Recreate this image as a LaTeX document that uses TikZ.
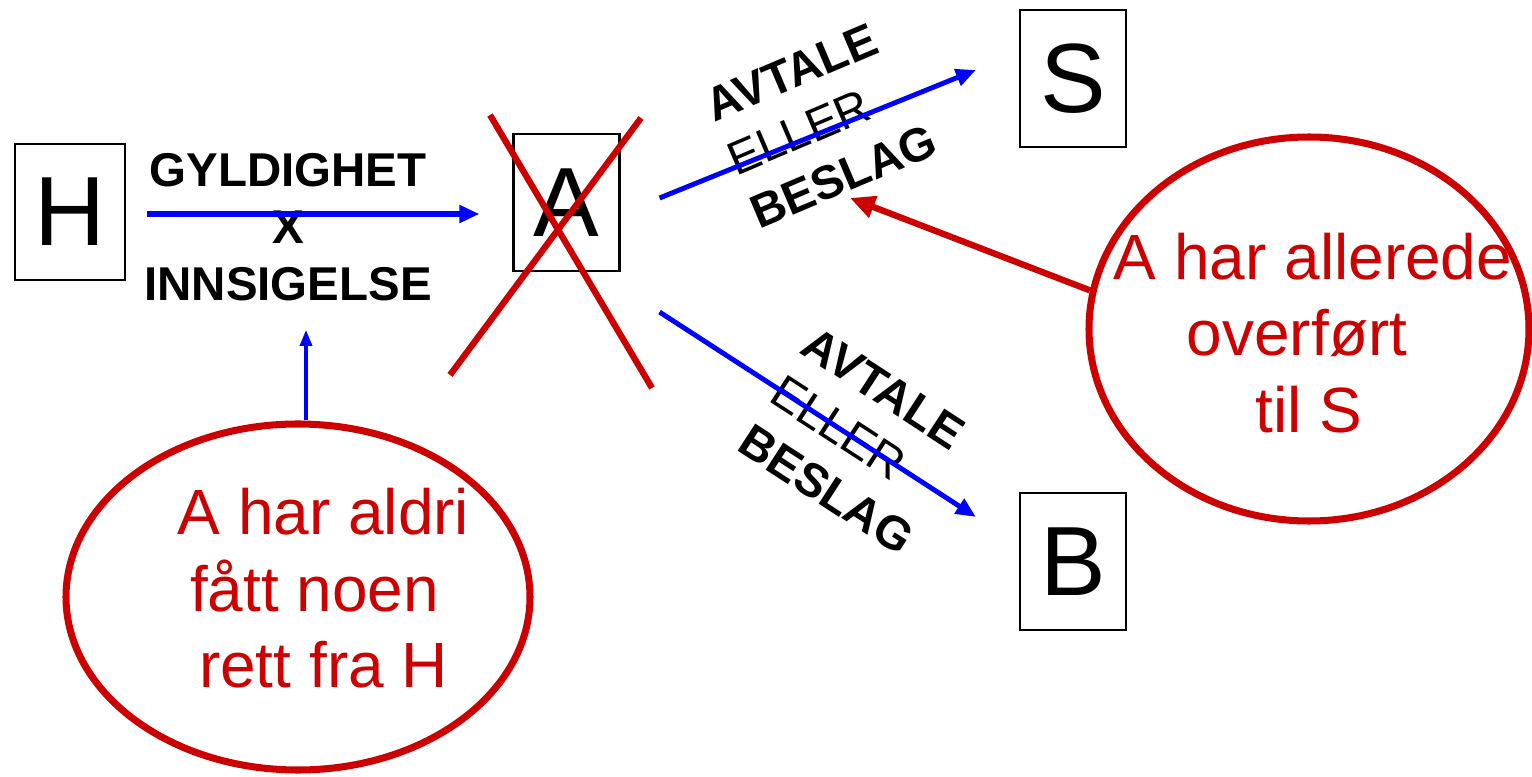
\documentclass[tikz,border=0pt]{standalone}
\usepackage{fontspec}
\setmainfont{Liberation Sans}
\usetikzlibrary{arrows.meta,shapes.geometric}
\definecolor{notered}{RGB}{204,0,0}

\begin{document}
\begin{tikzpicture}[
    party/.style={draw, line width=0.6pt, minimum width=1.06cm, minimum height=1.37cm, inner sep=0pt, font=\fontsize{28}{30}\selectfont},
    flow/.style={blue, line width=1.6pt, -{Triangle[length=0.2cm, width=0.17cm]}},
    deal/.style={align=left, inner sep=0pt, font=\fontsize{13.4}{16.5}\selectfont},
    bubble/.style={draw=notered, ellipse, line width=2pt, inner sep=0pt},
    note/.style={text=notered, align=center, inner sep=0pt, font=\fontsize{18.2}{21.8}\selectfont},
    cross/.style={notered, line width=1.8pt}
]
    \useasboundingbox (0,0) rectangle (15.32,7.76);

    \node[party, minimum width=1.10cm, minimum height=1.36cm] (H) at (0.70,5.64) {H};
    \node[party] (A) at (5.665,5.735) {A};
    \node[party] (S) at (10.73,6.975) {S};
    \node[party] (B) at (10.73,2.145) {B};

    \node[align=center, inner sep=0pt, font=\bfseries\fontsize{13.5}{16.2}\selectfont] (claim) at (2.88,5.485) {GYLDIGHET\\X\\INNSIGELSE};
    \node[deal, rotate=23] (dealS) at (8.21,6.53) {\textbf{AVTALE}\\ELLER\\\textbf{BESLAG}};
    \node[deal, rotate=-33] (dealB) at (8.58,3.35) {\textbf{AVTALE}\\ELLER\\\textbf{BESLAG}};

    % A is struck out
    \draw[cross] (4.90,6.61) -- (6.52,3.88);
    \draw[cross] (6.41,6.58) -- (4.50,4.01);

    \node[bubble, minimum width=4.64cm, minimum height=3.46cm] (lring) at (2.98,1.79) {};
    \node[bubble, minimum width=4.40cm, minimum height=3.84cm] (rring) at (13.09,4.47) {};
    \node[note] (ltext) at (3.235,1.875) {A har aldri\\fått noen\kern.28em\\rett fra H};
    \node[note] (rtext) at (13.13,4.43) {A har allerede\\overført\kern.5em\\til S\kern.13em};

    \draw[flow] ([xshift=0.21cm,yshift=-0.02cm]H.east) -- ([xshift=-0.33cm,yshift=-0.115cm]A.west);
    \draw[flow, line width=1.4pt] ([xshift=0.39cm,yshift=0.045cm]A.east) -- ([xshift=-0.43cm,yshift=0.085cm]S.west);
    \draw[flow, line width=1.4pt] ([xshift=0.39cm,yshift=-0.40cm]A.south east) -- ([xshift=-0.43cm,yshift=-0.25cm]B.north west);
    \draw[flow, line width=1pt, -{Triangle[length=0.16cm, width=0.12cm]}] ([xshift=0.08cm]lring.north) -- ([xshift=0.18cm,yshift=-0.28cm]claim.south);

    \coordinate (tipS) at (8.50,5.78);
    \draw[cross, -{Triangle[length=0.25cm, width=0.22cm]}] (rring.170) -- (tipS);
\end{tikzpicture}
\end{document}
